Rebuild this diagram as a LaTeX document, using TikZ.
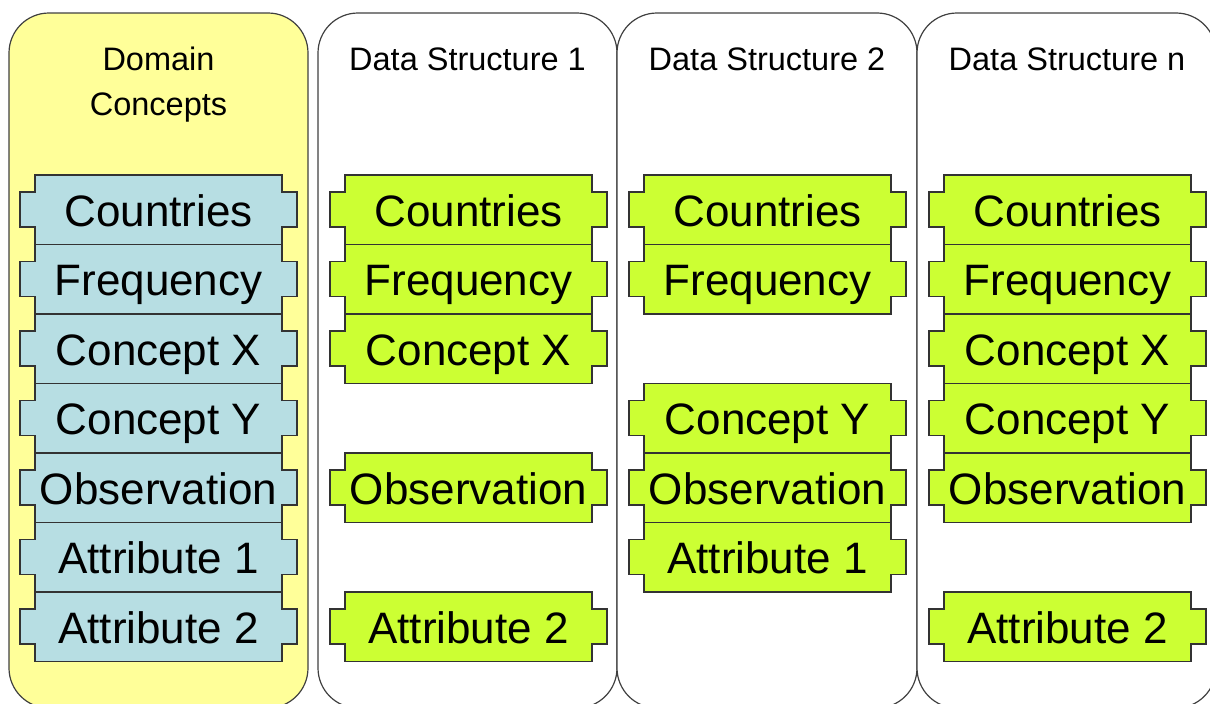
\documentclass[tikz,border=0pt]{standalone}
\usepackage{fontspec}
\setmainfont{Liberation Sans}
\usepackage{tikz}

\definecolor{paneyellow}{HTML}{FFFF99}
\definecolor{pieceblue}{HTML}{B7DEE3}
\definecolor{piecegreen}{HTML}{CCFF33}
\definecolor{edgegray}{HTML}{404040}

\tikzset{
  panel/.style={draw=edgegray, line width=1.2pt, rounded corners=40pt},
  piece/.style={draw=black!80, line width=1.4pt},
  piecetext/.style={anchor=base, inner sep=0pt, font=\fontsize{44}{50}\selectfont},
  headtext/.style={anchor=base, inner sep=0pt, align=center, font=\fontsize{32.5}{45}\selectfont}
}

% puzzle piece: name, left tab x, row, fill, text
\newcommand{\piece}[5]{%
  \draw[piece, fill=#4] (#2+15,175+#3*69.5) -- (#2+262,175+#3*69.5) -- (#2+262,192+#3*69.5) -- (#2+277,192+#3*69.5) -- (#2+277,227+#3*69.5) -- (#2+262,227+#3*69.5) -- (#2+262,244.5+#3*69.5) -- (#2+15,244.5+#3*69.5) -- (#2+15,227+#3*69.5) -- (#2,227+#3*69.5) -- (#2,192+#3*69.5) -- (#2+15,192+#3*69.5) -- cycle;
  \node[piecetext] (#1) at (#2+138.5,226+#3*69.5) {#5};}

\begin{document}
\begin{tikzpicture}[x=1pt, y=-1pt]

\useasboundingbox (0,0) rectangle (1210,704);
\clip (0,0) rectangle (1210,704);

% columns
\draw[panel, fill=paneyellow] (9,13) rectangle (308,708);
\draw[panel, fill=white] (318,13) rectangle (617,708);
\draw[panel, fill=white] (617,13) rectangle (917,708);
\draw[panel, fill=white] (917,13) rectangle (1216,708);

\node[headtext] (domain) at (158.5,115) {Domain\\Concepts};
\node[headtext] (ds one) at (467.5,70) {Data Structure 1};
\node[headtext] (ds two) at (767,70) {Data Structure 2};
\node[headtext] (ds n) at (1067,70) {Data Structure n};

% domain concepts
\piece{dc countries}{20}{0}{pieceblue}{Countries}
\piece{dc frequency}{20}{1}{pieceblue}{Frequency}
\piece{dc concept x}{20}{2}{pieceblue}{Concept X}
\piece{dc concept y}{20}{3}{pieceblue}{Concept Y}
\piece{dc observation}{20}{4}{pieceblue}{Observation}
\piece{dc attribute 1}{20}{5}{pieceblue}{Attribute 1}
\piece{dc attribute 2}{20}{6}{pieceblue}{Attribute 2}

% data structure 1
\piece{one countries}{330}{0}{piecegreen}{Countries}
\piece{one frequency}{330}{1}{piecegreen}{Frequency}
\piece{one concept x}{330}{2}{piecegreen}{Concept X}
\piece{one observation}{330}{4}{piecegreen}{Observation}
\piece{one attribute 2}{330}{6}{piecegreen}{Attribute 2}

% data structure 2
\piece{two countries}{629}{0}{piecegreen}{Countries}
\piece{two frequency}{629}{1}{piecegreen}{Frequency}
\piece{two concept y}{629}{3}{piecegreen}{Concept Y}
\piece{two observation}{629}{4}{piecegreen}{Observation}
\piece{two attribute 1}{629}{5}{piecegreen}{Attribute 1}

% data structure n
\piece{n countries}{929}{0}{piecegreen}{Countries}
\piece{n frequency}{929}{1}{piecegreen}{Frequency}
\piece{n concept x}{929}{2}{piecegreen}{Concept X}
\piece{n concept y}{929}{3}{piecegreen}{Concept Y}
\piece{n observation}{929}{4}{piecegreen}{Observation}
\piece{n attribute 2}{929}{6}{piecegreen}{Attribute 2}

\end{tikzpicture}
\end{document}
